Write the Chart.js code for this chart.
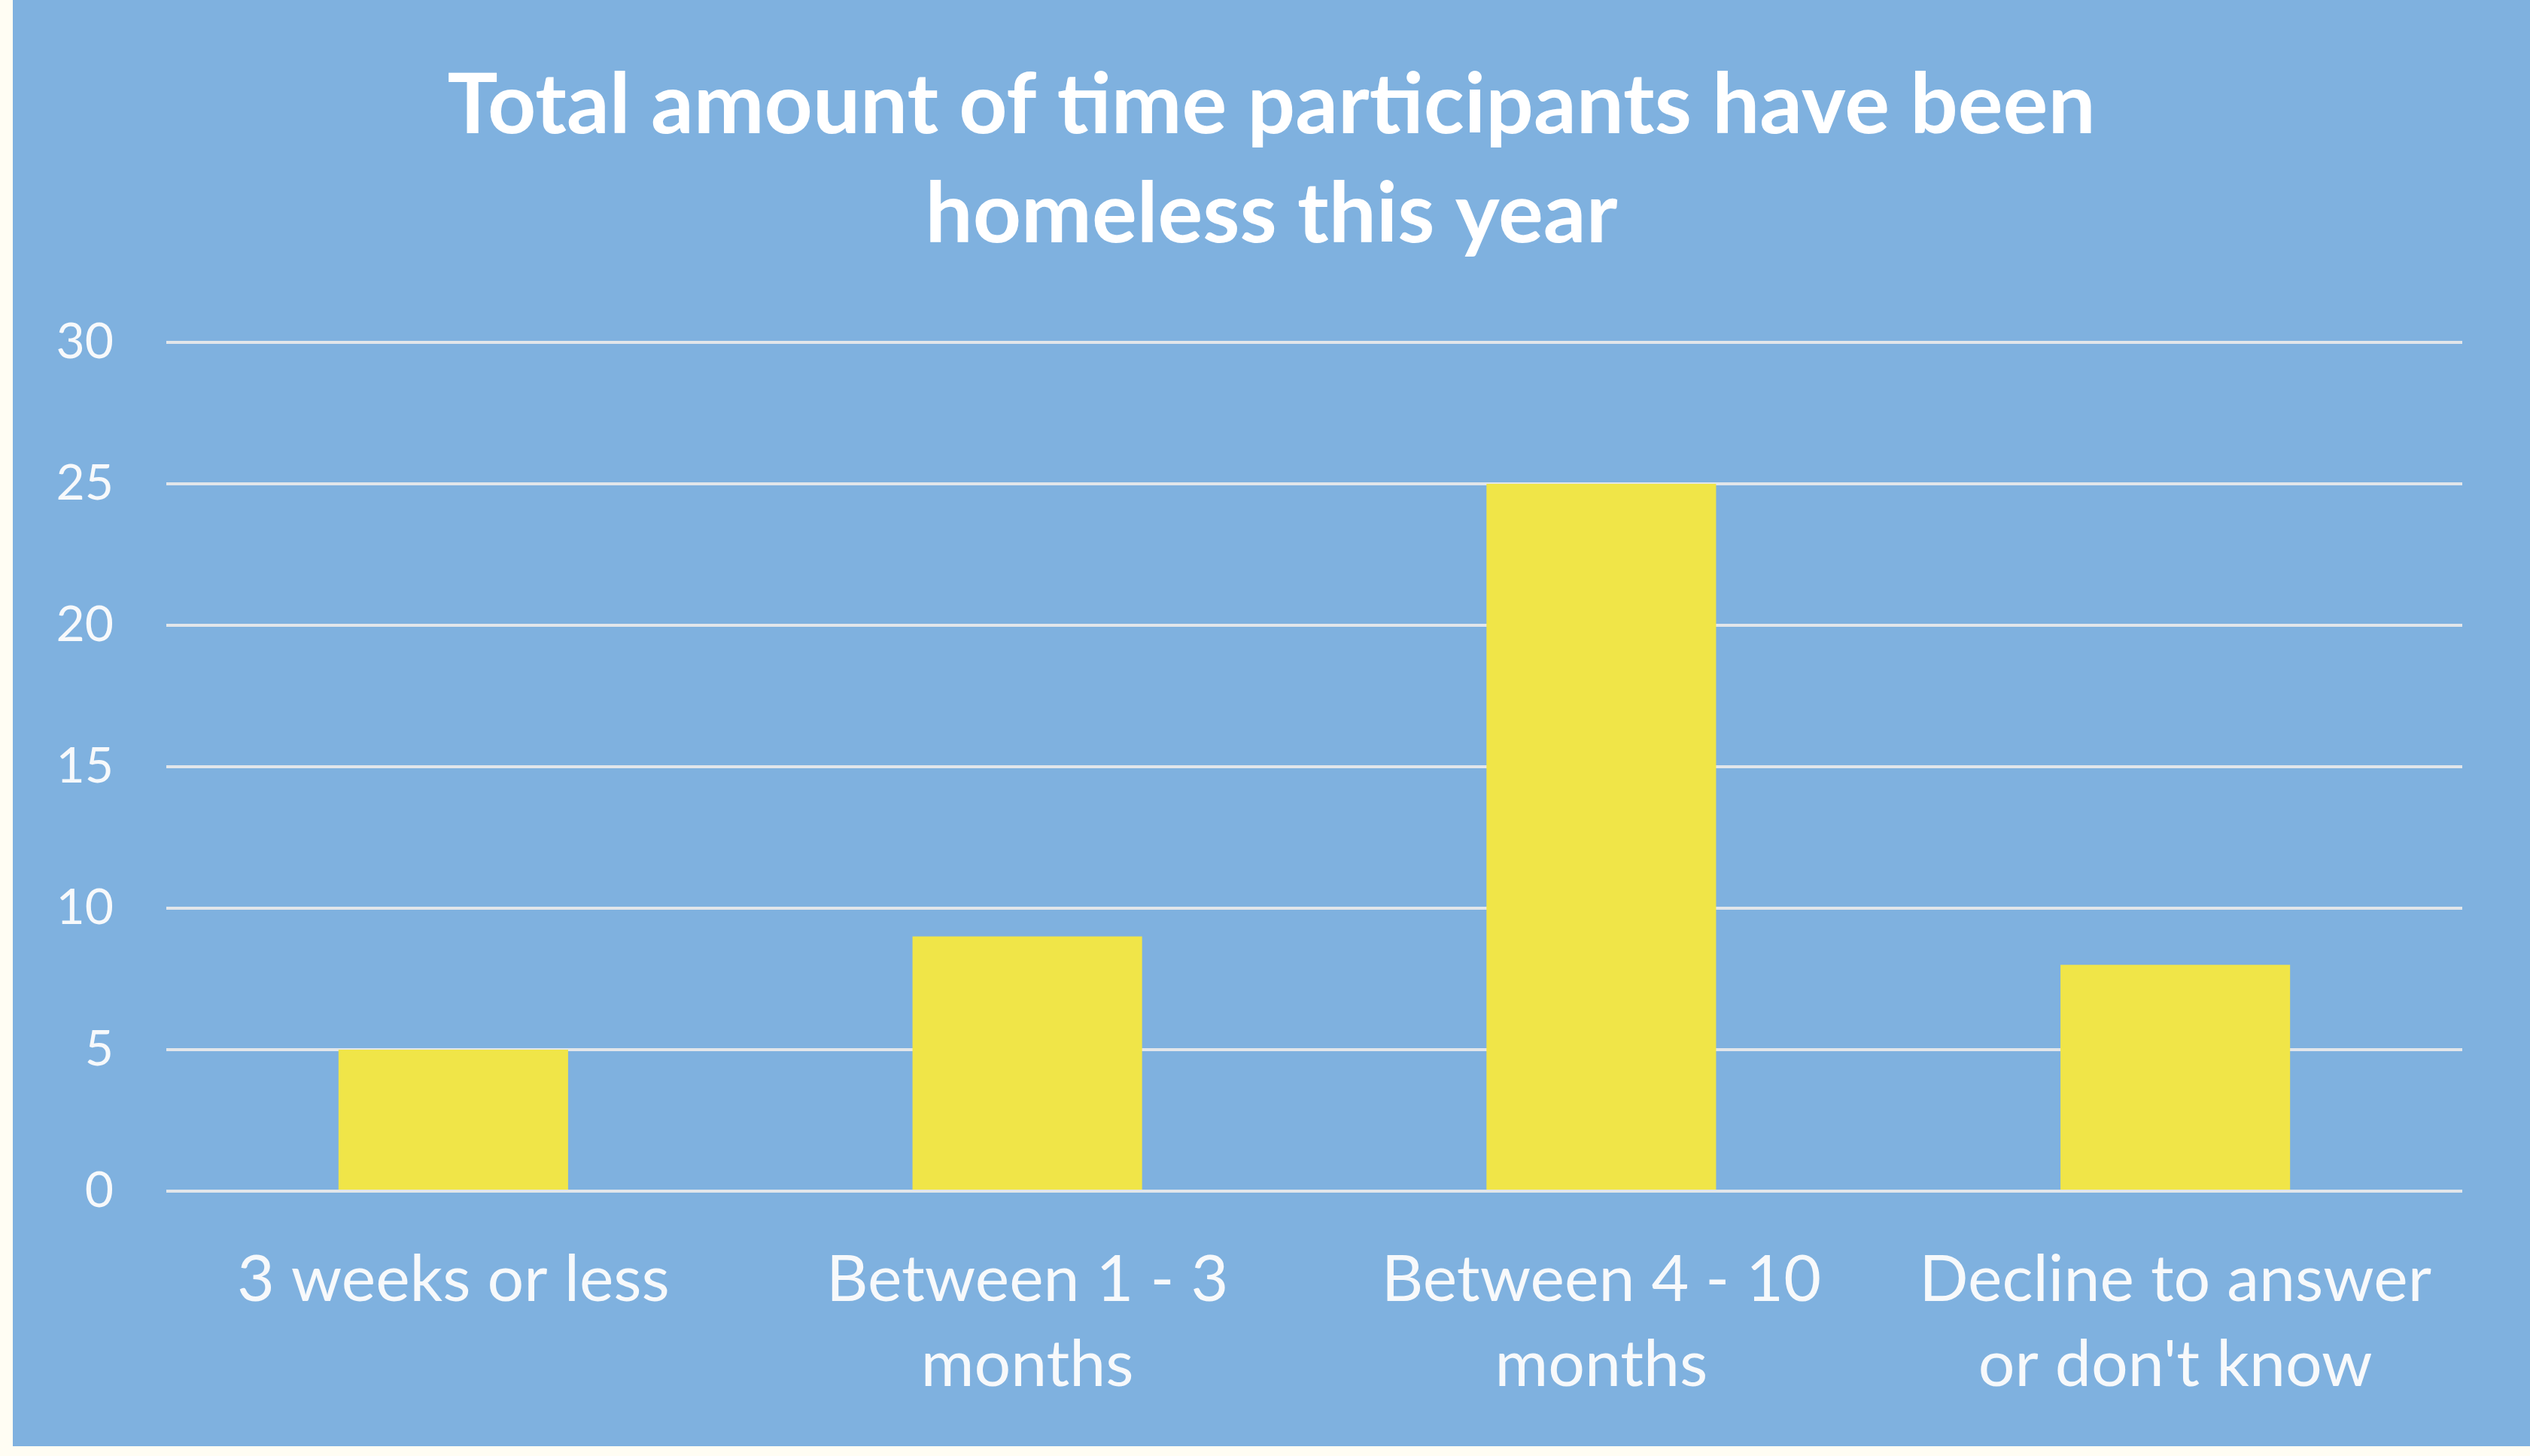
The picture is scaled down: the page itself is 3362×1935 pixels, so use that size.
<!DOCTYPE html>
<html>
<head>
<meta charset="utf-8">
<script src="https://cdn.jsdelivr.net/npm/chart.js@4.4.1/dist/chart.umd.min.js"></script>
<style>
  html, body { margin: 0; padding: 0; background: #fffdf3; }
  body { width: 3362px; height: 1935px; position: relative; overflow: hidden; }
  #panel {
    position: absolute; left: 17px; top: 0; width: 3345px; height: 1922px;
    background: #7fb1df;
  }
</style>
</head>
<body>
<div id="panel"><canvas id="homelessChart"></canvas></div>
<script>
const categories = [
  ['3 weeks or less'],
  ['Between 1 - 3', 'months'],
  ['Between 4 - 10', 'months'],
  ['Decline to answer', "or don't know"]
];
const participants = [5, 9, 25, 8];
const yTicks = [0, 5, 10, 15, 20, 25, 30];

Chart.defaults.font.family = 'Lato';
Chart.defaults.color = '#f7f9fb';

function renderHomelessChart() {
  new Chart(document.getElementById('homelessChart'), {
    type: 'bar',
    data: {
      labels: categories,
      datasets: [{
        label: 'Participants',
        data: participants,
        backgroundColor: '#f0e548',
        borderWidth: 0,
        barPercentage: 0.4,
        categoryPercentage: 1.0
      }]
    },
    options: {
      responsive: true,
      maintainAspectRatio: false,
      animation: false,
      layout: { padding: 0 },
      plugins: {
        legend: { display: false },
        tooltip: { enabled: false },
        title: {
          display: true,
          text: ['Total amount of time participants have been', 'homeless this year'],
          color: '#ffffff',
          font: { family: 'Lato', weight: 'bold', size: 112, lineHeight: 1.295 },
          padding: { top: 68, bottom: 97 }
        }
      },
      scales: {
        x: {
          grid: { display: false },
          border: { display: false },
          ticks: {
            color: '#f7f9fb',
            font: { size: 86, lineHeight: 1.31 },
            padding: 54,
            maxRotation: 0,
            autoSkip: false
          },
          afterFit: (scale) => { scale.height = 339; }
        },
        y: {
          min: 0,
          max: 30,
          afterBuildTicks: (scale) => { scale.ticks = yTicks.map(v => ({ value: v })); },
          grid: { color: '#e2e6ea', lineWidth: 4, drawTicks: false },
          border: { display: false },
          ticks: {
            color: '#f7f9fb',
            font: { size: 66 },
            padding: 70
          },
          afterFit: (scale) => { scale.width = 204; }
        },
        // empty right-hand axis, only keeps a margin beside the plot
        yRight: {
          position: 'right',
          grid: { display: false },
          border: { display: false },
          ticks: { display: false },
          afterFit: (scale) => { scale.width = 90; }
        }
      }
    }
  });
}

document.addEventListener('DOMContentLoaded', renderHomelessChart);
</script>
</body>
</html>
